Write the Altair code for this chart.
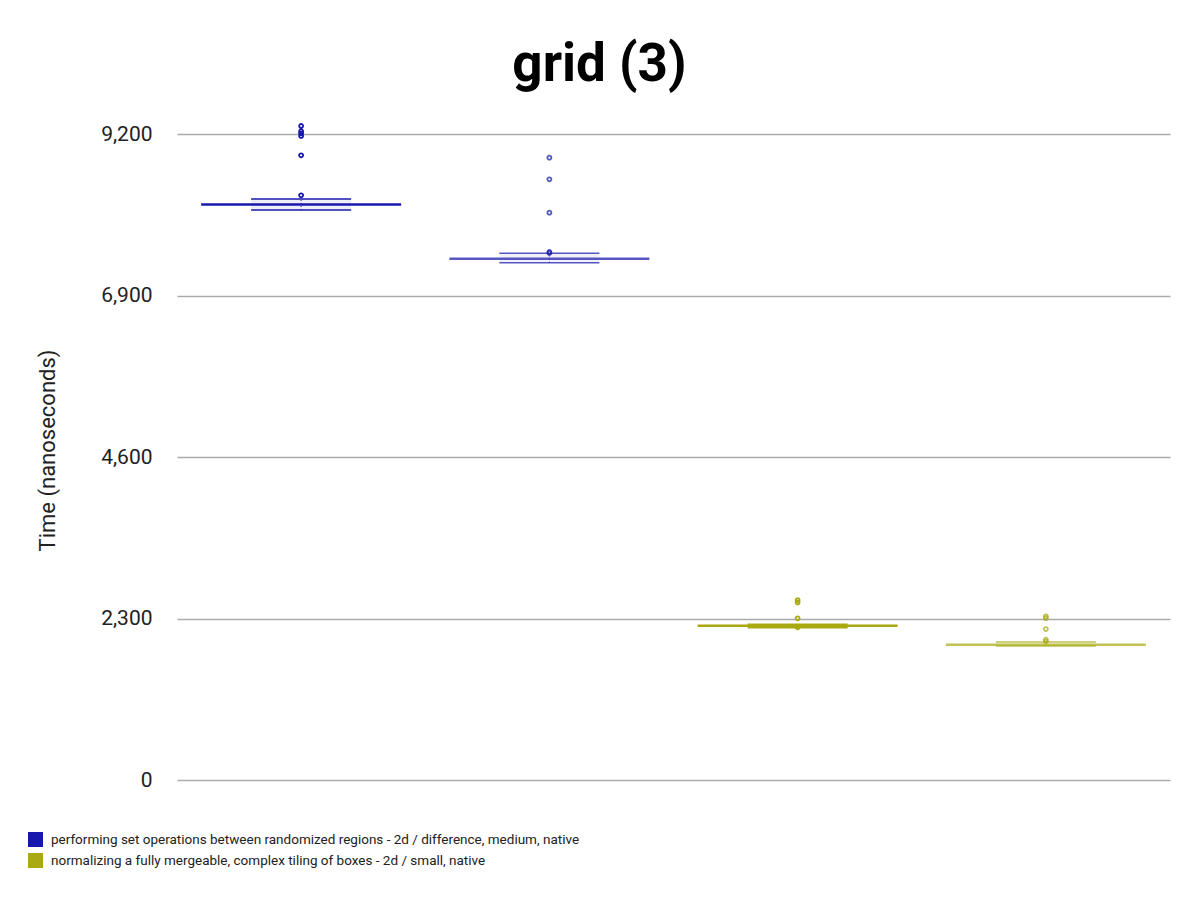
import altair as alt
import pandas as pd

# ---- data ----
series_names = [
    "performing set operations between randomized regions - 2d / difference, medium, native",
    "normalizing a fully mergeable, complex tiling of boxes - 2d / small, native",
]
box_cats = ["b1", "b2", "b3", "b4"]
box_series = [series_names[0], series_names[0], series_names[1], series_names[1]]
box_shade = [1, 2, 1, 2]
medians = [8196, 7424, 2197, 1927]
q1s = [8118, 7368, 2169, 1908]
q3s = [8274, 7501, 2217, 1965]

outlier_cats = ["b1"] * 6 + ["b2"] * 5 + ["b3"] * 4 + ["b4"] * 5
outlier_vals = [9314, 9240, 9210, 9172, 8897, 8327,
                8863, 8555, 8080, 7520, 7505,
                2563, 2530, 2303, 2175,
                2330, 2305, 2150, 1998, 1975]

y_ticks = [0, 2300, 4600, 6900, 9200]
colors = ["#1818ac", "#a8aa10"]

# ---- tables ----
boxes = pd.DataFrame({
    "cat": box_cats, "series": box_series, "shade": box_shade,
    "median": medians, "q1": q1s, "q3": q3s,
})
cat_series = dict(zip(box_cats, box_series))
cat_shade = dict(zip(box_cats, box_shade))
outliers = pd.DataFrame({
    "cat": outlier_cats,
    "series": [cat_series[c] for c in outlier_cats],
    "shade": [cat_shade[c] for c in outlier_cats],
    "value": outlier_vals,
})

x_enc = alt.X("cat:N", sort=box_cats, axis=None,
              scale=alt.Scale(paddingInner=0, paddingOuter=0))
y_scale = alt.Scale(domain=[0, 9200], nice=False, zero=True)
y_axis = alt.Axis(values=y_ticks, format=",.0f", title="Time (nanoseconds)",
                  domain=False, ticks=False, labelPadding=25,
                  labelFont="Roboto", labelFontSize=21, labelColor="#222222",
                  titleFont="Roboto", titleFontSize=22, titleFontWeight="normal",
                  titleColor="#222222", titleX=-123, titleY=316,
                  titleAlign="center", titleBaseline="alphabetic", titleAngle=270,
                  gridColor="#aaaaaa", gridWidth=1.5)
color_scale = alt.Scale(domain=series_names, range=colors)
legend = alt.Legend(
    title=None, orient="none", legendX=-149, legendY=698,
    symbolType="square", symbolSize=225, symbolStrokeWidth=0,
    symbolOpacity=1, labelFont="Roboto", labelFontSize=13.5,
    labelColor="#222222", labelOffset=8, rowPadding=6, padding=0,
    labelLimit=800)
color_enc = alt.Color("series:N", scale=color_scale, legend=legend)
op_enc = alt.Opacity("shade:O", scale=alt.Scale(domain=[1, 2], range=[1.0, 0.72]),
                     legend=None)

base = alt.Chart(boxes)

median_tick = base.mark_tick(size=200, thickness=2.5).encode(
    x=x_enc,
    y=alt.Y("median:Q", scale=y_scale, axis=y_axis),
    color=color_enc,
    opacity=op_enc,
)

box_fill = base.mark_bar(size=100, fillOpacity=0.08).encode(
    x=x_enc,
    y=alt.Y("q1:Q", scale=y_scale, axis=y_axis),
    y2="q3:Q",
    color=color_enc,
    opacity=op_enc,
)

box_low = base.mark_tick(size=100, thickness=1.5).encode(
    x=x_enc,
    y=alt.Y("q1:Q", scale=y_scale, axis=y_axis),
    color=color_enc,
    opacity=op_enc,
)

box_high = base.mark_tick(size=100, thickness=1.5).encode(
    x=x_enc,
    y=alt.Y("q3:Q", scale=y_scale, axis=y_axis),
    color=color_enc,
    opacity=op_enc,
)

whisker = base.mark_rule(strokeDash=[1, 2], strokeWidth=1).encode(
    x=x_enc,
    y=alt.Y("q1:Q", scale=y_scale, axis=y_axis),
    y2="q3:Q",
    color=color_enc,
    opacity=op_enc,
)

points = alt.Chart(outliers).mark_point(
    shape="circle", size=16, filled=False, strokeWidth=1.8
).encode(
    x=x_enc,
    y=alt.Y("value:Q", scale=y_scale, axis=y_axis),
    color=color_enc,
    opacity=op_enc,
)

chart = alt.layer(box_fill, box_low, box_high, median_tick, whisker, points).properties(
    width=993, height=646,
    background="white",
    autosize=alt.AutoSizeParams(type="none"),
    padding={"left": 169, "top": 126, "right": 22, "bottom": 100},
    title=alt.TitleParams("grid (3)", font="Roboto", fontSize=53,
                          fontWeight="bold", color="#000000", anchor="middle",
                          frame="group", dx=-74, offset=28),
).configure_view(strokeWidth=0, stroke="transparent")

chart.save("out.html", embed_options={"renderer": "svg", "actions": False})
